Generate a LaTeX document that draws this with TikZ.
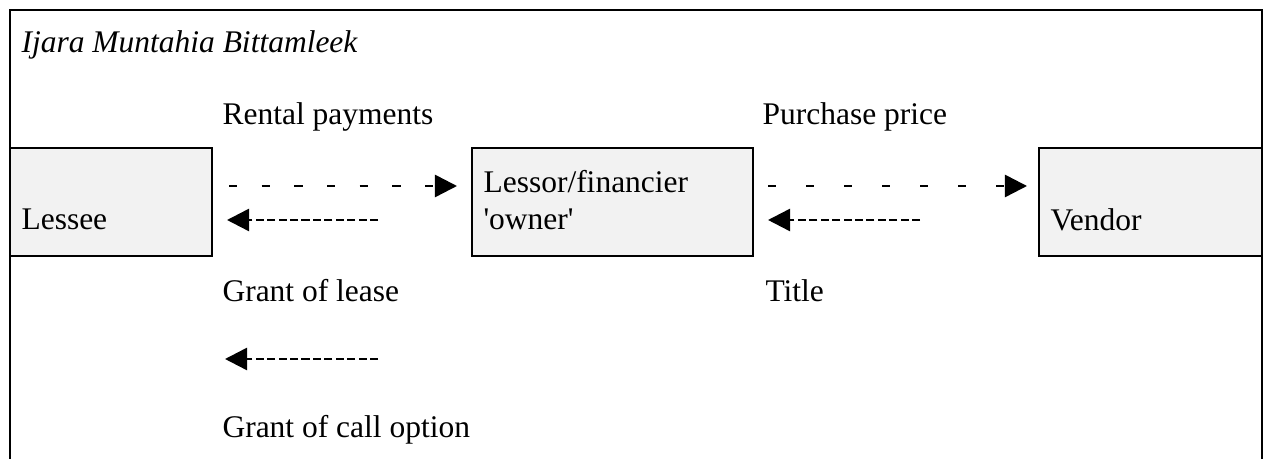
\documentclass[tikz,border=0pt]{standalone}
\usepackage{fontspec}
\setmainfont{Liberation Serif}[Ligatures=TeXOff]
\usetikzlibrary{arrows.meta}

\definecolor{boxgray}{HTML}{F2F2F2}
\tikzset{
  party/.style={draw=black, line width=1.1pt, fill=boxgray},
  lbl/.style={anchor=base west, inner sep=0pt, font=\fontsize{12pt}{14pt}\selectfont},
  flow/.style={line width=0.95pt, -{Triangle[length=8.4pt,width=8.4pt]}},
  sparse/.style={flow, dash pattern=on 3.2pt off 9.25pt},
  sparsewide/.style={flow, dash pattern=on 3.2pt off 11.28pt},
  dense/.style={flow, dash pattern=on 3.05pt off 1.3pt},
}

\begin{document}
\begin{tikzpicture}[x=0.381pt, y=-0.381pt]
  \useasboundingbox (0,0) rectangle (1263,459);

  % open frame (no bottom edge)
  \draw[line width=1.1pt] (10,459) -- (10,10) -- (1262,10) -- (1262,459);

  % parties
  \draw[party] (10,148) rectangle (212,256);
  \draw[party] (472,148) rectangle (753,256);
  \draw[party] (1039,148) rectangle (1262,256);

  \node[lbl] (title) at (21,53) {\textit{Ijara Muntahia Bittamleek}};

  \node[lbl] (lessee) at (21,230) {Lessee};
  \node[lbl] (lessor) at (483,193) {Lessor/financier};
  \node[lbl] (owner) at (483,230) {'owner'};
  \node[lbl] (vendor) at (1050,231) {Vendor};

  \node[lbl] (rent) at (222,125) {Rental payments};
  \node[lbl] (price) at (762,125) {Purchase price};
  \node[lbl] (lease) at (222,302) {Grant of lease};
  \node[lbl] (titlelbl) at (765,302) {Title};
  \node[lbl] (call) at (222,438) {Grant of call option};

  % flow ends
  \coordinate (rentA) at (229,186);
  \coordinate (rentB) at (457,186);
  \coordinate (leaseA) at (378,220);
  \coordinate (leaseB) at (227,220);
  \coordinate (priceA) at (768,186);
  \coordinate (priceB) at (1027,186);
  \coordinate (titleA) at (920,220);
  \coordinate (titleB) at (768,220);
  \coordinate (callA) at (378,359);
  \coordinate (callB) at (225,359);

  \draw[sparse] (rentA) -- (rentB);
  \draw[dense] (leaseA) -- (leaseB);
  \draw[sparsewide] (priceA) -- (priceB);
  \draw[dense] (titleA) -- (titleB);
  \draw[dense] (callA) -- (callB);
\end{tikzpicture}
\end{document}
